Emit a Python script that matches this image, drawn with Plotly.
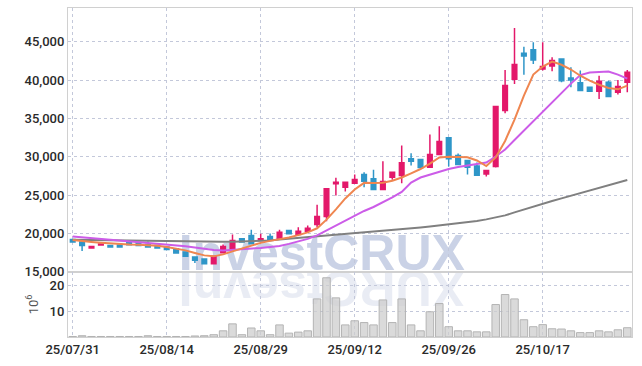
import plotly.graph_objects as go

# ---------------- data ----------------
dates = ["2025-07-31", "2025-08-01", "2025-08-04", "2025-08-05", "2025-08-06", "2025-08-07", "2025-08-08",
         "2025-08-11", "2025-08-12", "2025-08-13", "2025-08-14", "2025-08-18", "2025-08-19", "2025-08-20",
         "2025-08-21", "2025-08-22", "2025-08-25", "2025-08-26", "2025-08-27", "2025-08-28", "2025-08-29",
         "2025-09-01", "2025-09-02", "2025-09-03", "2025-09-04", "2025-09-05", "2025-09-08", "2025-09-09",
         "2025-09-10", "2025-09-11", "2025-09-12", "2025-09-15", "2025-09-16", "2025-09-17", "2025-09-18",
         "2025-09-19", "2025-09-22", "2025-09-23", "2025-09-24", "2025-09-25", "2025-09-26", "2025-09-29",
         "2025-09-30", "2025-10-01", "2025-10-02", "2025-10-10", "2025-10-13", "2025-10-14", "2025-10-15",
         "2025-10-16", "2025-10-17", "2025-10-20", "2025-10-21", "2025-10-22", "2025-10-23", "2025-10-24",
         "2025-10-27", "2025-10-28", "2025-10-29", "2025-10-30"]

open_ = [19230, 18880, 18100, 18500, 18450, 18490, 18800, 18840, 18580, 18450, 18230, 18020, 17580, 16930,
         16670, 16070, 17500, 17900, 19320, 19750, 19100, 19620, 19320, 20400, 19880, 20310, 21190, 22230,
         26480, 26040, 26560, 27700, 27140, 25740, 27340, 27560, 29740, 29650, 28650, 30300, 32470, 30170,
         29520, 28800, 27760, 28740, 36030, 40100, 43490, 43970, 41460, 41850, 42760, 40290, 39670, 39060,
         38540, 39710, 38410, 39710]
high = [19300, 18920, 18350, 18700, 18480, 18520, 18830, 18870, 18970, 18480, 18260, 18050, 17610, 16960,
        16700, 17050, 18560, 19880, 19350, 20490, 19970, 20010, 20490, 20450, 20830, 21050, 23750, 25900,
        27270, 26750, 27700, 27990, 28310, 29430, 28050, 31470, 30470, 29700, 32900, 33980, 32550, 30430,
        29550, 29260, 28250, 36600, 41330, 46800, 44360, 44920, 44920, 42970, 42800, 41670, 41240, 39100,
        40580, 39930, 40020, 41330]
low = [18850, 17710, 18080, 18450, 18200, 18200, 18520, 18420, 18200, 18070, 17900, 17420, 16990, 16150,
       16040, 16040, 17470, 17870, 18850, 18640, 19070, 19160, 19290, 19940, 19850, 20280, 20830, 21610,
       24960, 25480, 26530, 26040, 25710, 25650, 27000, 26560, 28870, 28550, 28600, 30250, 28740, 28950,
       27700, 27550, 27430, 28610, 35680, 39500, 40710, 42110, 41240, 41140, 39710, 39060, 38600, 38500,
       37550, 37800, 38110, 38410]
close = [18880, 18450, 18320, 18620, 18230, 18230, 18540, 18450, 18230, 18100, 17930, 17450, 17020, 16500,
         16070, 17020, 18320, 19100, 18880, 18670, 19320, 19190, 20180, 19970, 20310, 20700, 22230, 25830,
         26690, 26690, 27040, 26820, 25740, 26780, 27990, 29220, 29430, 28610, 30300, 31990, 29740, 29000,
         28650, 27600, 28220, 36550, 39280, 42020, 43150, 42630, 41760, 42540, 39930, 40020, 38630, 38540,
         39840, 37850, 39150, 41010]

ma_short = [19150, 19000, 18900, 18800, 18710, 18650, 18580, 18540, 18480, 18390, 18250, 18060, 17800, 17470,
            17150, 17020, 17280, 17670, 18060, 18450, 18780, 19040, 19250, 19470, 19790, 20140, 20680, 21810,
            23150, 24570, 25740, 26610, 26600, 26610, 26870, 27300, 27840, 28410, 29110, 29910, 30010, 29970,
            29930, 29520, 28800, 29910, 32060, 34850, 37980, 40730, 41770, 42420, 42000, 41380, 40570, 39930,
            39400, 38980, 38800, 39280]
ma_mid = [19620, 19520, 19430, 19340, 19230, 19140, 19040, 18950, 18840, 18740, 18630, 18500, 18350, 18190,
          17990, 17860, 17800, 17860, 17930, 17990, 18120, 18250, 18380, 18650, 18970, 19300, 19750, 20400,
          21050, 21710, 22360, 22940, 23460, 24050, 24700, 25420, 26650, 27300, 27700, 28020, 28410, 28670,
          28870, 29020, 29260, 30040, 30950, 32190, 33420, 34730, 35900, 37070, 38370, 39540, 40650, 40980,
          41070, 41110, 40710, 40190]
ma_long = [19190, 19170, 19150, 19130, 19100, 19080, 19050, 19020, 19000, 18970, 18960, 18950, 18930, 18920,
           18910, 18910, 18920, 18930, 18950, 18970, 19010, 19100, 19210, 19310, 19410, 19520, 19620, 19710,
           19800, 19900, 19990, 20090, 20190, 20310, 20430, 20550, 20660, 20790, 20920, 21050, 21250, 21380,
           21510, 21640, 21840, 22070, 22360, 22750, 23140, 23500, 23880, 24230, 24580, 24930, 25270, 25610,
           25940, 26260, 26590, 26980]

volume_m = [0.2, 0.5, 0.2, 0.2, 0.2, 0.2, 0.2, 0.2, 0.5, 0.2, 0.2, 0.2, 0.2, 0.4, 0.5, 0.9, 2.4, 5.1, 0.9,
            3.5, 2.4, 0.9, 4.7, 1.5, 1.9, 2.4, 14.8, 23.0, 15.2, 4.7, 6.3, 5.6, 4.7, 14.4, 5.6, 14.8, 4.7,
            2.4, 9.8, 13.0, 4.0, 2.4, 2.4, 2.0, 2.0, 12.6, 16.5, 14.8, 6.7, 4.0, 4.8, 3.2, 3.1, 2.4, 1.7, 1.7,
            2.4, 2.0, 2.8, 3.6]

tick_dates = ["2025-07-31", "2025-08-14", "2025-08-29", "2025-09-12", "2025-09-26", "2025-10-17"]
tick_labels = ["25/07/31", "25/08/14", "25/08/29", "25/09/12", "25/09/26", "25/10/17"]
price_ticks = [15000, 20000, 25000, 30000, 35000, 40000, 45000]
volume_ticks = [10, 20]
watermark = "InvestCRUX"

# ---------------- style ----------------
RED = "#e3186a"
BLUE = "#2f96c8"
GRID = "#c3c8da"
AXLINE = "#d0d0d0"
FONT = "Roboto, Liberation Sans, sans-serif"
tickfont = dict(family=FONT, size=13, color="#2a2a2a", weight=500)

fig = go.Figure()

fig.add_trace(go.Bar(
    x=dates, y=volume_m, xaxis="x2", yaxis="y2",
    marker=dict(color="rgba(205,205,205,0.75)", line=dict(color="#b4b4b4", width=1)),
    showlegend=False, hoverinfo="skip"))

fig.add_trace(go.Scatter(x=dates, y=ma_long, mode="lines", line=dict(color="#808080", width=2),
                         showlegend=False, hoverinfo="skip"))
fig.add_trace(go.Scatter(x=dates, y=ma_mid, mode="lines", line=dict(color="#cc5ce8", width=2),
                         showlegend=False, hoverinfo="skip"))
fig.add_trace(go.Scatter(x=dates, y=ma_short, mode="lines", line=dict(color="#ef8650", width=2),
                         showlegend=False, hoverinfo="skip"))

fig.add_trace(go.Candlestick(
    x=dates, open=open_, high=high, low=low, close=close,
    increasing=dict(line=dict(color=RED, width=1.5), fillcolor=RED),
    decreasing=dict(line=dict(color=BLUE, width=1.5), fillcolor=BLUE),
    showlegend=False))

split = 0.198
common_x = dict(type="category", range=[-0.5, 59.5], showgrid=True, gridcolor=GRID, griddash="dot",
                gridwidth=1, tickvals=tick_dates, ticktext=tick_labels, showline=True, linecolor=AXLINE,
                mirror=True, ticks="", zeroline=False, automargin=False)

fig.update_layout(
    width=642, height=366,
    margin=dict(l=68, r=10, t=8, b=29),
    paper_bgcolor="white", plot_bgcolor="rgba(0,0,0,0)",
    showlegend=False,
    xaxis=dict(common_x, anchor="y", showticklabels=False, rangeslider=dict(visible=False)),
    xaxis2=dict(common_x, anchor="y2", matches="x", showticklabels=True, tickfont=tickfont),
    yaxis=dict(domain=[split, 1], range=[15000, 49400], tickvals=price_ticks, tickformat=",",
               showgrid=True, gridcolor=GRID, griddash="dot", showline=True, linecolor=AXLINE,
               mirror=True, ticks="", zeroline=False, tickfont=tickfont, automargin=False),
    yaxis2=dict(domain=[0, split], range=[0, 25.3], tickvals=volume_ticks, showgrid=True,
                gridcolor=GRID, griddash="dot", showline=True, linecolor=AXLINE, mirror=True,
                ticks="", zeroline=False, tickfont=tickfont, automargin=False,
                title=dict(text="10<sup>6</sup>", font=dict(family=FONT, size=13, color="#555"),
                           standoff=8)),
    shapes=[
        dict(type="rect", xref="paper", yref="paper", x0=0.1, x1=0.8, y0=0.215, y1=0.325,
             line=dict(width=0), fillcolor="rgba(0,0,0,0)", layer="below",
             label=dict(text="<b>" + watermark + "</b>", textposition="middle center",
                        font=dict(family="Liberation Sans, Arial, sans-serif", size=50,
                                  color="rgba(193,202,226,0.85)"))),
        dict(type="rect", xref="paper", yref="paper", x0=0.1, x1=0.8, y0=0.08, y1=0.19,
             line=dict(width=0), fillcolor="rgba(0,0,0,0)", layer="below",
             label=dict(text="<b>" + watermark[::-1] + "</b>", textposition="middle center",
                        textangle=180,
                        font=dict(family="Liberation Sans, Arial, sans-serif", size=50,
                                  color="rgba(215,220,235,0.55)"))),
    ],
)

fig.write_html("out.html", config={"displayModeBar": False},
               post_script="document.body.style.margin='0';")
